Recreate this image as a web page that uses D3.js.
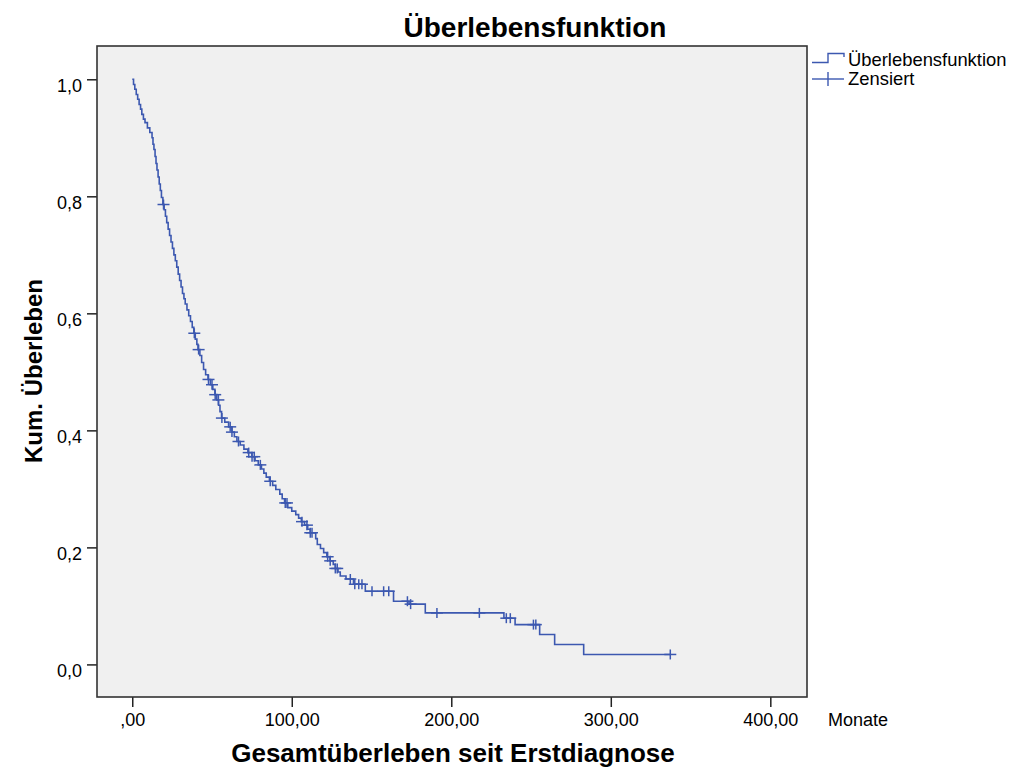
<!DOCTYPE html>
<html>
<head>
<meta charset="utf-8">
<script src="https://cdn.jsdelivr.net/npm/d3@7"></script>
<style>
  body { margin: 0; background: #fff; }
  svg text { font-family: "Liberation Sans", Arial, sans-serif; fill: #000; }
</style>
</head>
<body>
<div id="chart"></div>
<script>
// Kaplan-Meier Schätzung, Werte
// Zeitpunkte (Monate), an denen die Kurve eine Stufe macht
const stepTimes = [0, 0.8, 1.6, 2.5, 3.4, 4.3, 5.2, 6.0, 7.0, 8.0, 9.5, 11.0, 12.4, 13.0, 13.6,
  14.3, 14.9, 15.5, 16.2, 16.9, 17.6, 18.3, 19.2, 20.0, 20.8, 21.6, 22.5, 23.4, 24.3, 25.2,
  26.1, 27.0, 27.9, 28.8, 29.7, 30.6, 31.5, 32.4, 33.2, 34.3, 35.4, 36.5, 37.6, 38.6, 39.5,
  40.5, 41.2, 42.4, 43.5, 44.7, 46.0, 47.5, 49.0, 50.5, 51.8, 53.0, 54.1, 55.0, 56.0, 58.0,
  60.4, 62.5, 64.0, 65.6, 67.7, 70.0, 72.5, 75.0, 77.0, 79.0, 81.0, 82.5, 84.0, 86.0, 88.0,
  90.0, 92.5, 94.0, 95.5, 97.5, 100.0, 102.5, 104.3, 106.0, 108.0, 110.0, 111.6, 115.0, 116.0,
  118.0, 120.0, 122.0, 124.0, 126.0, 127.3, 129.0, 130.4, 134.0, 138.7, 146.1, 163.8, 173.5,
  183.7, 233.0, 240.0, 255.4, 264.8, 283.0];
// kumulatives Überleben nach der jeweiligen Stufe
const stepSurv = [1.000, 0.991, 0.983, 0.974, 0.966, 0.957, 0.949, 0.940, 0.932, 0.926, 0.917,
  0.909, 0.900, 0.889, 0.880, 0.868, 0.856, 0.845, 0.833, 0.821, 0.810, 0.798, 0.786, 0.777,
  0.766, 0.755, 0.744, 0.733, 0.722, 0.711, 0.700, 0.690, 0.679, 0.667, 0.656, 0.645, 0.634,
  0.625, 0.616, 0.606, 0.596, 0.586, 0.576, 0.566, 0.556, 0.547, 0.538, 0.528, 0.516, 0.504,
  0.495, 0.487, 0.478, 0.470, 0.461, 0.452, 0.443, 0.432, 0.421, 0.414, 0.406, 0.397, 0.389,
  0.381, 0.375, 0.368, 0.362, 0.355, 0.348, 0.341, 0.334, 0.327, 0.320, 0.313, 0.306, 0.299,
  0.291, 0.283, 0.276, 0.268, 0.262, 0.256, 0.250, 0.244, 0.238, 0.231, 0.225, 0.215, 0.205,
  0.198, 0.191, 0.184, 0.177, 0.171, 0.164, 0.158, 0.151, 0.146, 0.137, 0.125, 0.108, 0.103,
  0.088, 0.079, 0.068, 0.051, 0.034, 0.017];
// zensierte Fälle (Monate)
const censorTimes = [19.6, 38.9, 41.6, 47.8, 50.0, 52.0, 54.0, 56.2, 61.4, 62.5, 66.6, 73.0,
  75.1, 76.5, 80.3, 86.5, 95.9, 97.0, 106.4, 109.5, 111.6, 112.7, 122.5, 124.1, 127.3, 128.5,
  136.7, 139.5, 142.0, 144.0, 150.3, 157.6, 160.8, 172.5, 174.5, 191.0, 217.6, 234.5, 237.0,
  251.5, 253.0, 337.3];
const lastTime = 337.3;

const xTicks = [0, 100, 200, 300, 400];
const yTicks = [0, 0.2, 0.4, 0.6, 0.8, 1.0];

const lineColor = '#3c58b0';

const svgwidth = 1013;
const svgheight = 769;
const svg = d3.select('#chart').append('svg')
  .attr('width', svgwidth)
  .attr('height', svgheight);

const plot = { left: 97, right: 807, top: 46, bottom: 697 };

const x = d3.scaleLinear()
  .domain([-22.1, 423])
  .range([plot.left, plot.right]);
const y = d3.scaleLinear()
  .domain([-0.0557, 1.0569])
  .range([plot.bottom, plot.top]);

// Hintergrund der Zeichenfläche
svg.append('rect')
  .attr('x', plot.left)
  .attr('y', plot.top)
  .attr('width', plot.right - plot.left)
  .attr('height', plot.bottom - plot.top)
  .attr('fill', '#f0f0f0');

// deutsche Zahlenformate
const fmtY = d => d3.format('.1f')(d).replace('.', ',');
const fmtX = d => (d === 0 ? ',00' : d3.format('.2f')(d).replace('.', ','));

// y-Achse
const yAxis = svg.append('g')
  .attr('transform', `translate(${plot.left},0)`)
  .call(d3.axisLeft(y)
    .tickValues(yTicks)
    .tickFormat(fmtY)
    .tickSize(10)
    .tickPadding(5));
yAxis.select('.domain').remove();
yAxis.selectAll('.tick line').attr('stroke', '#222').attr('stroke-width', 1.5);
yAxis.selectAll('.tick text')
  .attr('font-size', '18px')
  .attr('dy', '0.68em')
  .attr('fill', '#111');

// x-Achse
const xAxis = svg.append('g')
  .attr('transform', `translate(0,${plot.bottom})`)
  .call(d3.axisBottom(x)
    .tickValues(xTicks)
    .tickFormat(fmtX)
    .tickSize(10)
    .tickPadding(6));
xAxis.select('.domain').remove();
xAxis.selectAll('.tick line').attr('stroke', '#222').attr('stroke-width', 1.5);
xAxis.selectAll('.tick text')
  .attr('font-size', '18px')
  .attr('fill', '#111');

// Rahmen
svg.append('rect')
  .attr('x', plot.left)
  .attr('y', plot.top)
  .attr('width', plot.right - plot.left)
  .attr('height', plot.bottom - plot.top)
  .attr('fill', 'none')
  .attr('stroke', '#333')
  .attr('stroke-width', 1.6);

// Überlebenskurve als Treppe
const curvePts = stepTimes.map((t, i) => [t, stepSurv[i]]);
curvePts.push([lastTime, stepSurv[stepSurv.length - 1]]);
const line = d3.line()
  .x(d => x(d[0]))
  .y(d => y(d[1]))
  .curve(d3.curveStepAfter);

svg.append('path')
  .attr('d', line(curvePts))
  .attr('fill', 'none')
  .attr('stroke', lineColor)
  .attr('stroke-width', 1.6);

// Zensierungen als Kreuze
const survAt = t => stepSurv[Math.max(0, d3.bisectRight(stepTimes, t) - 1)];
const crosses = svg.append('g')
  .selectAll('g')
  .data(censorTimes)
  .enter()
  .append('g')
  .attr('transform', d => `translate(${x(d)},${y(survAt(d))})`);
crosses.append('line')
  .attr('x1', -6).attr('x2', 6)
  .attr('stroke', lineColor).attr('stroke-width', 1.5);
crosses.append('line')
  .attr('y1', -5).attr('y2', 5)
  .attr('stroke', lineColor).attr('stroke-width', 1.5);

// Titel und Achsenbeschriftungen
svg.append('text')
  .attr('x', 535)
  .attr('y', 37)
  .attr('text-anchor', 'middle')
  .attr('font-size', '28px')
  .attr('font-weight', 'bold')
  .text('Überlebensfunktion');

svg.append('text')
  .attr('x', 453)
  .attr('y', 762)
  .attr('text-anchor', 'middle')
  .attr('font-size', '26px')
  .attr('font-weight', 'bold')
  .text('Gesamtüberleben seit Erstdiagnose');

svg.append('text')
  .attr('transform', 'translate(42,371) rotate(-90)')
  .attr('text-anchor', 'middle')
  .attr('font-size', '24px')
  .attr('font-weight', 'bold')
  .text('Kum. Überleben');

svg.append('text')
  .attr('x', 828)
  .attr('y', 726)
  .attr('font-size', '18px')
  .attr('fill', '#111')
  .text('Monate');

// Legende
const legend = svg.append('g');
legend.append('path')
  .attr('d', 'M812,62.5H828V53.5H844V57')
  .attr('fill', 'none')
  .attr('stroke', lineColor)
  .attr('stroke-width', 1.4);
legend.append('text')
  .attr('x', 848)
  .attr('y', 66)
  .attr('font-size', '18.4px')
  .text('Überlebensfunktion');
legend.append('line')
  .attr('x1', 812).attr('x2', 844)
  .attr('y1', 79).attr('y2', 79)
  .attr('stroke', lineColor).attr('stroke-width', 1.4);
legend.append('line')
  .attr('x1', 828).attr('x2', 828)
  .attr('y1', 72).attr('y2', 86)
  .attr('stroke', lineColor).attr('stroke-width', 1.4);
legend.append('text')
  .attr('x', 848)
  .attr('y', 85)
  .attr('font-size', '18.4px')
  .text('Zensiert');
</script>
</body>
</html>
